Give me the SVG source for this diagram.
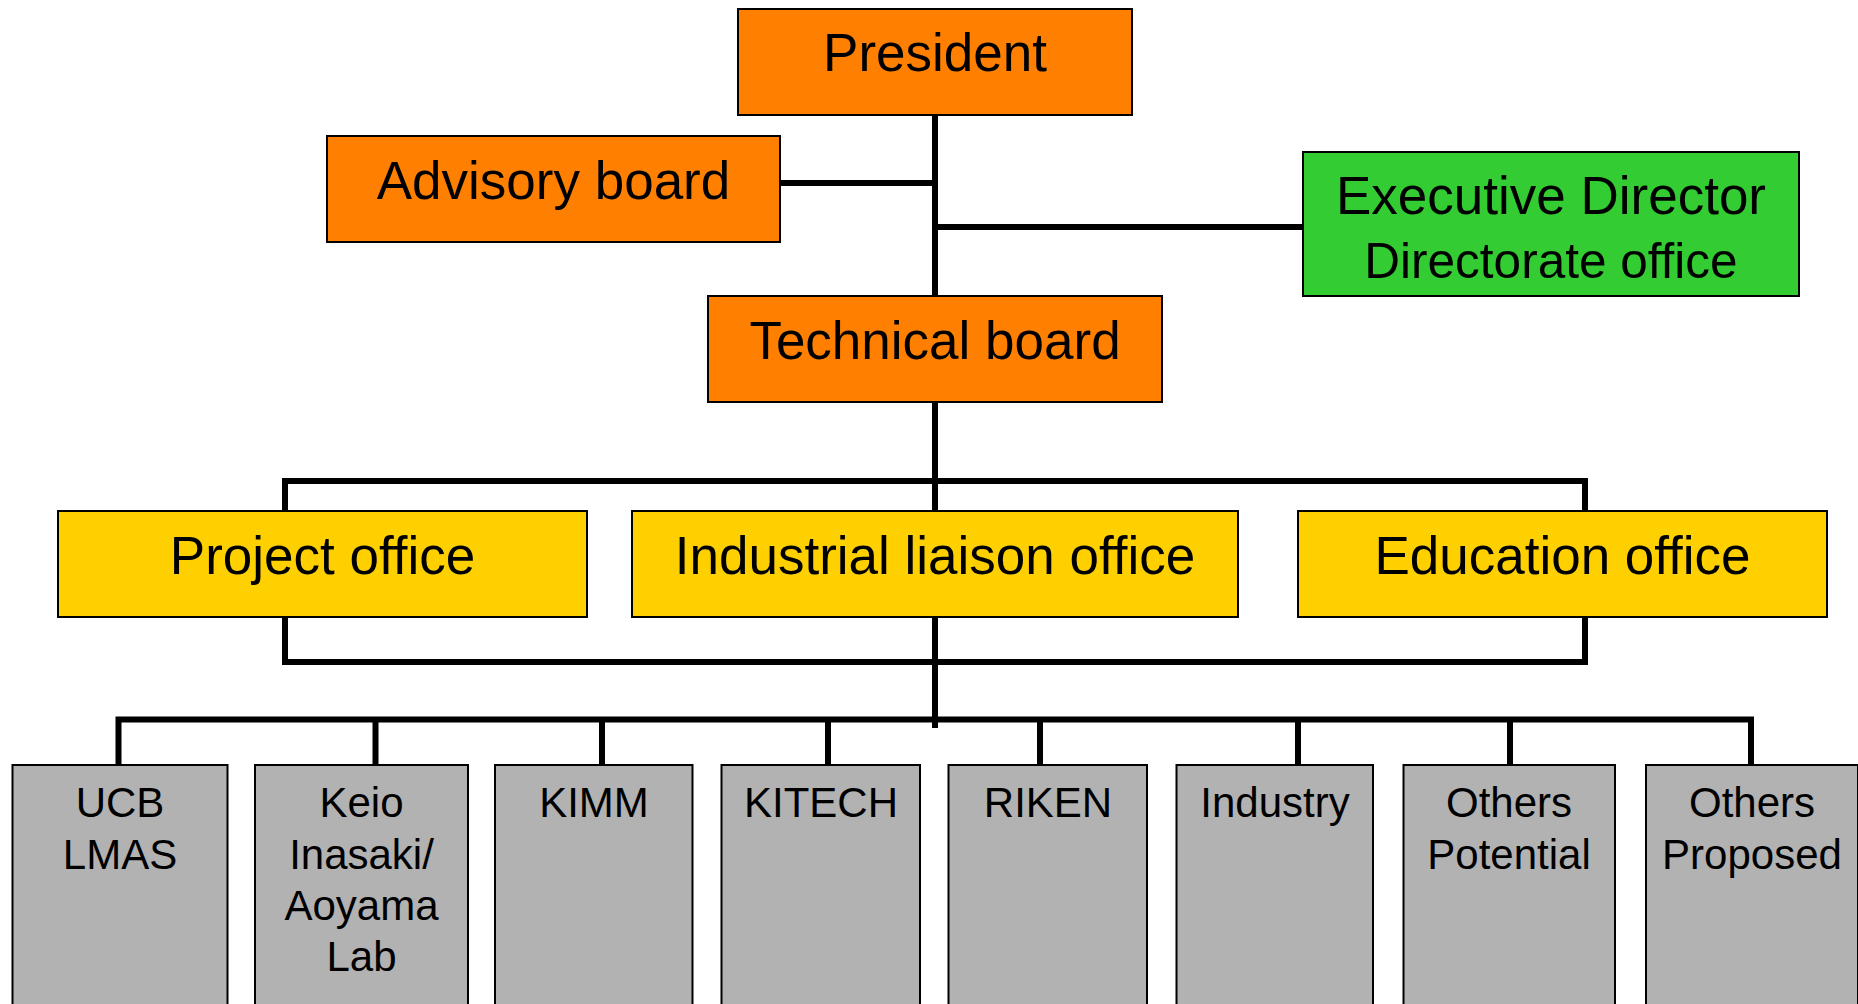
<svg xmlns="http://www.w3.org/2000/svg" width="1858" height="1004" viewBox="0 0 1858 1004">
<style>
.box{stroke:#000;stroke-width:2}
.or{fill:#FF8000}
.ye{fill:#FFD000}
.gr{fill:#33CC33}
.gy{fill:#B2B2B2}
.t{font-family:"Liberation Sans",Arial,sans-serif;fill:#000;text-anchor:middle}
.big{font-size:53px}
.med{font-size:49.5px}
.sm{font-size:42px}
.c{fill:none;stroke:#000;stroke-width:6}
</style>
<rect width="1858" height="1004" fill="#fff"/>
<g id="connectors">
<path class="c" d="M935 115V728"/>
<path class="c" d="M780 183H935"/>
<path class="c" d="M935 227H1303"/>
<path class="c" d="M285 511V481H1585V511"/>
<path class="c" d="M285 617V662H1585V617"/>
<path class="c" d="M118.5 765V719.5H1751V765"/>
<path class="c" d="M375.5 719.5V765M602 719.5V765M828 719.5V765M1040 719.5V765M1298 719.5V765M1510 719.5V765"/>
</g>
<g id="president"><rect class="box or" x="738" y="9" width="394" height="106"/><text class="t big" x="935" y="71">President</text></g>
<g id="advisory"><rect class="box or" x="327" y="136" width="453" height="106"/><text class="t big" x="553.5" y="199">Advisory board</text></g>
<g id="executive"><rect class="box gr" x="1303" y="152" width="496" height="144"/><text class="t big" x="1551" y="214">Executive Director</text><text class="t med" x="1551" y="278">Directorate office</text></g>
<g id="technical"><rect class="box or" x="708" y="296" width="454" height="106"/><text class="t big" x="935" y="359">Technical board</text></g>
<g id="project"><rect class="box ye" x="58" y="511" width="529" height="106"/><text class="t big" x="322.5" y="574">Project office</text></g>
<g id="liaison"><rect class="box ye" x="632" y="511" width="606" height="106"/><text class="t big" x="935" y="574">Industrial liaison office</text></g>
<g id="education"><rect class="box ye" x="1298" y="511" width="529" height="106"/><text class="t big" x="1562.5" y="574">Education office</text></g>
<g id="ucb"><rect class="box gy" x="12.5" y="765" width="215" height="250"/><text class="t sm" x="120" y="817">UCB</text><text class="t sm" x="120" y="869">LMAS</text></g>
<g id="keio"><rect class="box gy" x="255" y="765" width="213" height="250"/><text class="t sm" x="361.5" y="817">Keio</text><text class="t sm" x="361.5" y="869">Inasaki/</text><text class="t sm" x="361.5" y="920">Aoyama</text><text class="t sm" x="361.5" y="971">Lab</text></g>
<g id="kimm"><rect class="box gy" x="495" y="765" width="197.5" height="250"/><text class="t sm" x="594" y="817">KIMM</text></g>
<g id="kitech"><rect class="box gy" x="721.5" y="765" width="198.5" height="250"/><text class="t sm" x="821" y="817">KITECH</text></g>
<g id="riken"><rect class="box gy" x="948.5" y="765" width="198.5" height="250"/><text class="t sm" x="1048" y="817">RIKEN</text></g>
<g id="industry"><rect class="box gy" x="1176.5" y="765" width="196.5" height="250"/><text class="t sm" x="1275" y="817">Industry</text></g>
<g id="potential"><rect class="box gy" x="1403.5" y="765" width="211.5" height="250"/><text class="t sm" x="1509" y="817">Others</text><text class="t sm" x="1509" y="869">Potential</text></g>
<g id="proposed"><rect class="box gy" x="1646" y="765" width="212" height="250"/><text class="t sm" x="1752" y="817">Others</text><text class="t sm" x="1752" y="869">Proposed</text></g>
</svg>
